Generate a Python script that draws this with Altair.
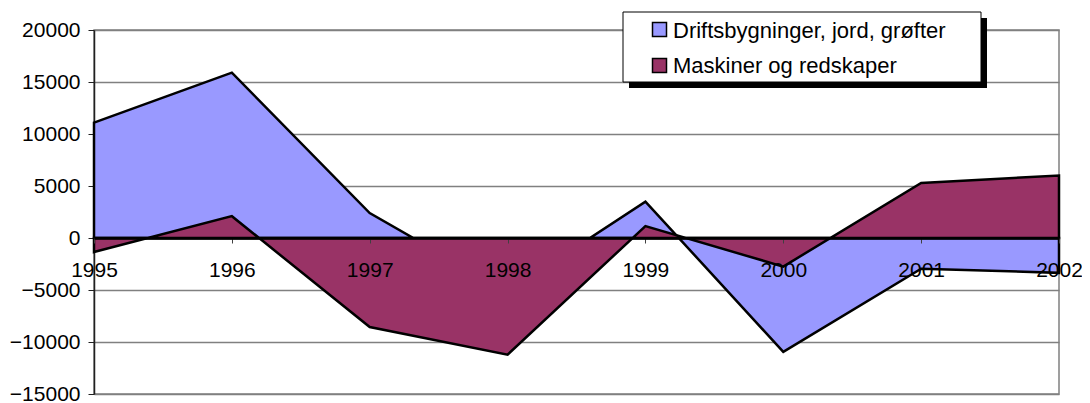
import altair as alt
import pandas as pd

years = [1995, 1996, 1997, 1998, 1999, 2000, 2001, 2002]
drift = [11100, 15900, 2400, -5200, 3500, -10950, -2950, -3350]
maskin = [-1350, 2100, -8560, -11220, 1150, -2750, 5300, 6000]
series = ["Driftsbygninger, jord, grøfter", "Maskiner og redskaper"]
colors = ["#9999FF", "#993366"]
yticks = [-15000, -10000, -5000, 0, 5000, 10000, 15000, 20000]

df = pd.DataFrame({
    "year": years * 2,
    "value": drift + maskin,
    "series": [series[0]] * len(years) + [series[1]] * len(years),
})

W, H = 965, 364
L = 86
FONT = "Liberation Sans"
FS = 22

xscale = alt.Scale(domain=[1995, 2002], nice=False, zero=False)
yscale = alt.Scale(domain=[-15000, 20000], nice=False)

base = alt.Chart(df)


def area_layer(i):
    name = series[i]
    return base.transform_filter(alt.datum.series == name).mark_area(
        stroke="black", strokeWidth=2.5, fill=colors[i], fillOpacity=1,
        strokeJoin="miter"
    ).encode(
        x=alt.X("year:Q", scale=xscale, axis=alt.Axis(
            values=years, format="d", title=None, grid=False, offset=-156,
            domainColor="black", domainWidth=2.5, tickColor="#404040",
            tickSize=5, labelFontSize=21, labelFont=FONT, labelColor="black",
            labelPadding=16, labelFlush=False, labelOverlap=False, zindex=1)),
        y=alt.Y("value:Q", scale=yscale, stack=None, axis=alt.Axis(
            values=yticks, format="d", title=None, gridColor="#808080",
            gridWidth=1.5, domainColor="#202020", domainWidth=1.5,
            tickColor="#202020", tickSize=6, labelFontSize=21, labelFont=FONT,
            labelColor="black", labelPadding=8)),
        y2=alt.datum(0),
    )


one = alt.Chart(pd.DataFrame({"a": [0]}))

# legend box in page pixels: 623..981 x 12..82 ; plot origin at (8+L, 30)
ox = 8 + L
shadow = one.mark_rect(color="black").encode(
    x=alt.value(629 - ox), x2=alt.value(987 - ox), y=alt.value(-12), y2=alt.value(58)
)
box = one.mark_rect(fill="white", stroke="black", strokeWidth=1).encode(
    x=alt.value(623 - ox), x2=alt.value(981 - ox), y=alt.value(-18), y2=alt.value(52)
)
legend_layers = [shadow, box]
sym_y = [-0.5, 35.5]
txt_y = [8.3, 42.7]
for i in range(2):
    legend_layers.append(
        one.mark_square(size=196, fill=colors[i], fillOpacity=1,
                        stroke="black", strokeWidth=1.5, opacity=1).encode(
            x=alt.value(659.5 - ox), y=alt.value(sym_y[i]))
    )
    legend_layers.append(
        one.mark_text(text=series[i], font=FONT, fontSize=FS, color="black",
                      align="left", baseline="alphabetic").encode(
            x=alt.value(673 - ox), y=alt.value(txt_y[i]))
    )

chart = alt.layer(area_layer(0), area_layer(1), *legend_layers).properties(
    width=W, height=H,
    autosize=alt.AutoSizeParams(type="none"),
    padding={"left": L, "top": 22, "right": 23, "bottom": 12},
).configure_view(stroke="#808080", strokeWidth=1.5)

chart.save("out.html", embed_options={"renderer": "svg", "actions": False})
